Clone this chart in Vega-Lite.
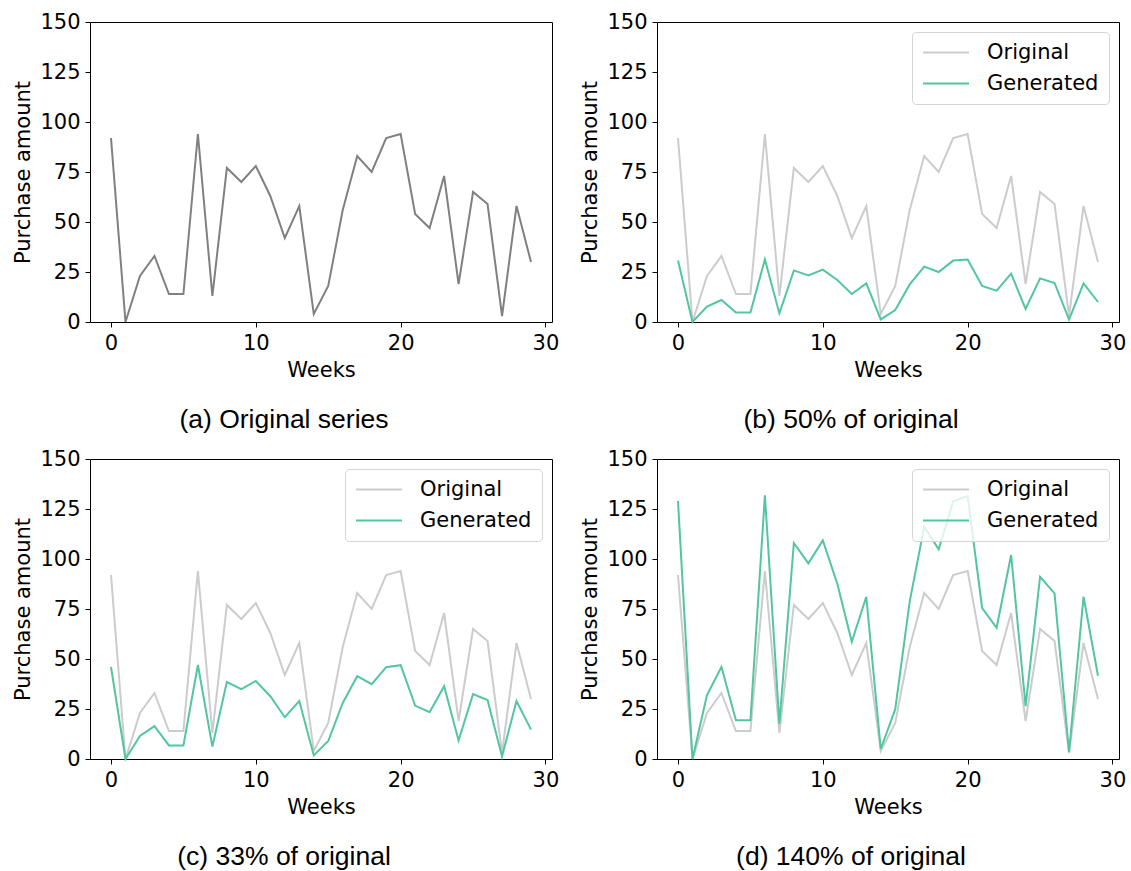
{
  "$schema": "https://vega.github.io/schema/vega-lite/v6.json",
  "background": "white",
  "padding": {"left": 12, "top": 10, "right": 5, "bottom": 5},
  "datasets": {
    "orig": [
      {"w":0,"v":92},{"w":1,"v":0},{"w":2,"v":23},{"w":3,"v":33},{"w":4,"v":14},{"w":5,"v":14},{"w":6,"v":94},{"w":7,"v":13},{"w":8,"v":77},{"w":9,"v":70},
      {"w":10,"v":78},{"w":11,"v":63},{"w":12,"v":42},{"w":13,"v":58},{"w":14,"v":4},{"w":15,"v":18},{"w":16,"v":56},{"w":17,"v":83},{"w":18,"v":75},{"w":19,"v":92},
      {"w":20,"v":94},{"w":21,"v":54},{"w":22,"v":47},{"w":23,"v":73},{"w":24,"v":19},{"w":25,"v":65},{"w":26,"v":59},{"w":27,"v":3},{"w":28,"v":58},{"w":29,"v":30}
    ],
    "gen": [
      {"p":"b","w":0,"v":30.8},{"p":"b","w":1,"v":0},{"p":"b","w":2,"v":7.7},{"p":"b","w":3,"v":11},{"p":"b","w":4,"v":4.7},{"p":"b","w":5,"v":4.7},{"p":"b","w":6,"v":31.3},{"p":"b","w":7,"v":4.3},{"p":"b","w":8,"v":25.8},{"p":"b","w":9,"v":23.3},
      {"p":"b","w":10,"v":26.2},{"p":"b","w":11,"v":21},{"p":"b","w":12,"v":14},{"p":"b","w":13,"v":19.3},{"p":"b","w":14,"v":1.3},{"p":"b","w":15,"v":6},{"p":"b","w":16,"v":18.8},{"p":"b","w":17,"v":27.7},{"p":"b","w":18,"v":25},{"p":"b","w":19,"v":30.7},
      {"p":"b","w":20,"v":31.2},{"p":"b","w":21,"v":18},{"p":"b","w":22,"v":15.7},{"p":"b","w":23,"v":24.2},{"p":"b","w":24,"v":6.5},{"p":"b","w":25,"v":21.8},{"p":"b","w":26,"v":19.5},{"p":"b","w":27,"v":1.2},{"p":"b","w":28,"v":19.3},{"p":"b","w":29,"v":10},
      {"p":"c","w":0,"v":46},{"p":"c","w":1,"v":0},{"p":"c","w":2,"v":11.5},{"p":"c","w":3,"v":16.4},{"p":"c","w":4,"v":6.8},{"p":"c","w":5,"v":6.8},{"p":"c","w":6,"v":47},{"p":"c","w":7,"v":6.2},{"p":"c","w":8,"v":38.5},{"p":"c","w":9,"v":34.9},
      {"p":"c","w":10,"v":39},{"p":"c","w":11,"v":31.4},{"p":"c","w":12,"v":20.9},{"p":"c","w":13,"v":29},{"p":"c","w":14,"v":1.8},{"p":"c","w":15,"v":9},{"p":"c","w":16,"v":28},{"p":"c","w":17,"v":41.4},{"p":"c","w":18,"v":37.4},{"p":"c","w":19,"v":45.9},
      {"p":"c","w":20,"v":46.9},{"p":"c","w":21,"v":26.7},{"p":"c","w":22,"v":23.4},{"p":"c","w":23,"v":36.4},{"p":"c","w":24,"v":9.3},{"p":"c","w":25,"v":32.5},{"p":"c","w":26,"v":29.5},{"p":"c","w":27,"v":1.3},{"p":"c","w":28,"v":29},{"p":"c","w":29,"v":14.7},
      {"p":"d","w":0,"v":129},{"p":"d","w":1,"v":0},{"p":"d","w":2,"v":32},{"p":"d","w":3,"v":46},{"p":"d","w":4,"v":19.4},{"p":"d","w":5,"v":19.4},{"p":"d","w":6,"v":131.9},{"p":"d","w":7,"v":17.7},{"p":"d","w":8,"v":108},{"p":"d","w":9,"v":97.8},
      {"p":"d","w":10,"v":109.3},{"p":"d","w":11,"v":87.6},{"p":"d","w":12,"v":58.6},{"p":"d","w":13,"v":81.1},{"p":"d","w":14,"v":5},{"p":"d","w":15,"v":24.9},{"p":"d","w":16,"v":78.8},{"p":"d","w":17,"v":116.2},{"p":"d","w":18,"v":104.8},{"p":"d","w":19,"v":128.9},
      {"p":"d","w":20,"v":131.5},{"p":"d","w":21,"v":75.5},{"p":"d","w":22,"v":65.6},{"p":"d","w":23,"v":102},{"p":"d","w":24,"v":26.4},{"p":"d","w":25,"v":91.1},{"p":"d","w":26,"v":82.8},{"p":"d","w":27,"v":3.5},{"p":"d","w":28,"v":81.1},{"p":"d","w":29,"v":41.6}
    ]
  },
  "columns": 2,
  "spacing": {"row": 137, "column": 105},
  "bounds": "flush",
  "resolve": {"scale": {"color": "independent"}, "legend": {"color": "independent"}},
  "concat": [
    {
      "width": 462, "height": 300,
      "title": {"text": "(a) Original series", "dx": -37},
      "data": {"name": "orig"},
      "mark": {"type": "line", "strokeWidth": 2, "color": "#808080"},
      "encoding": {
        "x": {"field": "w", "type": "quantitative", "scale": {"domain": [-1.45, 30.45], "nice": false, "zero": false}, "axis": {"values": [0, 10, 20, 30], "title": "Weeks"}},
        "y": {"field": "v", "type": "quantitative", "scale": {"domain": [0, 150], "nice": false}, "axis": {"values": [0, 25, 50, 75, 100, 125, 150], "title": "Purchase amount"}}
      }
    },
    {
      "width": 462, "height": 300,
      "title": {"text": "(b) 50% of original", "dx": -37},
      "layer": [
        {
          "data": {"name": "orig"},
          "mark": {"type": "line", "strokeWidth": 2},
          "encoding": {
            "x": {"field": "w", "type": "quantitative", "scale": {"domain": [-1.45, 30.45], "nice": false, "zero": false}, "axis": {"values": [0, 10, 20, 30], "title": "Weeks"}},
            "y": {"field": "v", "type": "quantitative", "scale": {"domain": [0, 150], "nice": false}, "axis": {"values": [0, 25, 50, 75, 100, 125, 150], "title": "Purchase amount"}},
            "color": {"datum": "Original", "type": "nominal", "scale": {"domain": ["Original", "Generated"], "range": ["#cccccc", "#52c5a3"]}, "legend": {"title": null}}
          }
        },
        {
          "data": {"name": "gen"},
          "transform": [{"filter": "datum.p == 'b'"}],
          "mark": {"type": "line", "strokeWidth": 2},
          "encoding": {
            "x": {"field": "w", "type": "quantitative"},
            "y": {"field": "v", "type": "quantitative"},
            "color": {"datum": "Generated", "type": "nominal"}
          }
        }
      ]
    },
    {
      "width": 462, "height": 300,
      "title": {"text": "(c) 33% of original", "dx": -37},
      "layer": [
        {
          "data": {"name": "orig"},
          "mark": {"type": "line", "strokeWidth": 2},
          "encoding": {
            "x": {"field": "w", "type": "quantitative", "scale": {"domain": [-1.45, 30.45], "nice": false, "zero": false}, "axis": {"values": [0, 10, 20, 30], "title": "Weeks"}},
            "y": {"field": "v", "type": "quantitative", "scale": {"domain": [0, 150], "nice": false}, "axis": {"values": [0, 25, 50, 75, 100, 125, 150], "title": "Purchase amount"}},
            "color": {"datum": "Original", "type": "nominal", "scale": {"domain": ["Original", "Generated"], "range": ["#cccccc", "#52c5a3"]}, "legend": {"title": null}}
          }
        },
        {
          "data": {"name": "gen"},
          "transform": [{"filter": "datum.p == 'c'"}],
          "mark": {"type": "line", "strokeWidth": 2},
          "encoding": {
            "x": {"field": "w", "type": "quantitative"},
            "y": {"field": "v", "type": "quantitative"},
            "color": {"datum": "Generated", "type": "nominal"}
          }
        }
      ]
    },
    {
      "width": 462, "height": 300,
      "title": {"text": "(d) 140% of original", "dx": -37},
      "layer": [
        {
          "data": {"name": "orig"},
          "mark": {"type": "line", "strokeWidth": 2},
          "encoding": {
            "x": {"field": "w", "type": "quantitative", "scale": {"domain": [-1.45, 30.45], "nice": false, "zero": false}, "axis": {"values": [0, 10, 20, 30], "title": "Weeks"}},
            "y": {"field": "v", "type": "quantitative", "scale": {"domain": [0, 150], "nice": false}, "axis": {"values": [0, 25, 50, 75, 100, 125, 150], "title": "Purchase amount"}},
            "color": {"datum": "Original", "type": "nominal", "scale": {"domain": ["Original", "Generated"], "range": ["#cccccc", "#52c5a3"]}, "legend": {"title": null}}
          }
        },
        {
          "data": {"name": "gen"},
          "transform": [{"filter": "datum.p == 'd'"}],
          "mark": {"type": "line", "strokeWidth": 2},
          "encoding": {
            "x": {"field": "w", "type": "quantitative"},
            "y": {"field": "v", "type": "quantitative"},
            "color": {"datum": "Generated", "type": "nominal"}
          }
        }
      ]
    }
  ],
  "config": {
    "view": {"stroke": "#000", "strokeWidth": 1},
    "axis": {
      "grid": false, "domain": false, "ticks": true, "tickSize": 5, "tickColor": "#000", "tickWidth": 1,
      "labelFont": "DejaVu Sans", "labelFontSize": 21, "labelColor": "#000", "labelPadding": 5,
      "labelFlush": false, "labelOverlap": false,
      "titleFont": "DejaVu Sans", "titleFontSize": 21, "titleFontWeight": "normal", "titleColor": "#000", "titlePadding": 6
    },
    "title": {"orient": "bottom", "anchor": "middle", "font": "Liberation Sans", "fontSize": 26.5, "fontWeight": "normal", "color": "#000", "offset": 27},
    "legend": {
      "orient": "top-right", "offset": 10, "padding": 10, "cornerRadius": 4,
      "strokeColor": "#d4d4d4", "fillColor": "rgba(255,255,255,0.8)",
      "symbolType": "stroke", "symbolSize": 2116, "symbolStrokeWidth": 2,
      "labelFont": "DejaVu Sans", "labelFontSize": 21, "labelColor": "#000", "labelOffset": 17,
      "rowPadding": 9, "clipHeight": 21
    }
  }
}
